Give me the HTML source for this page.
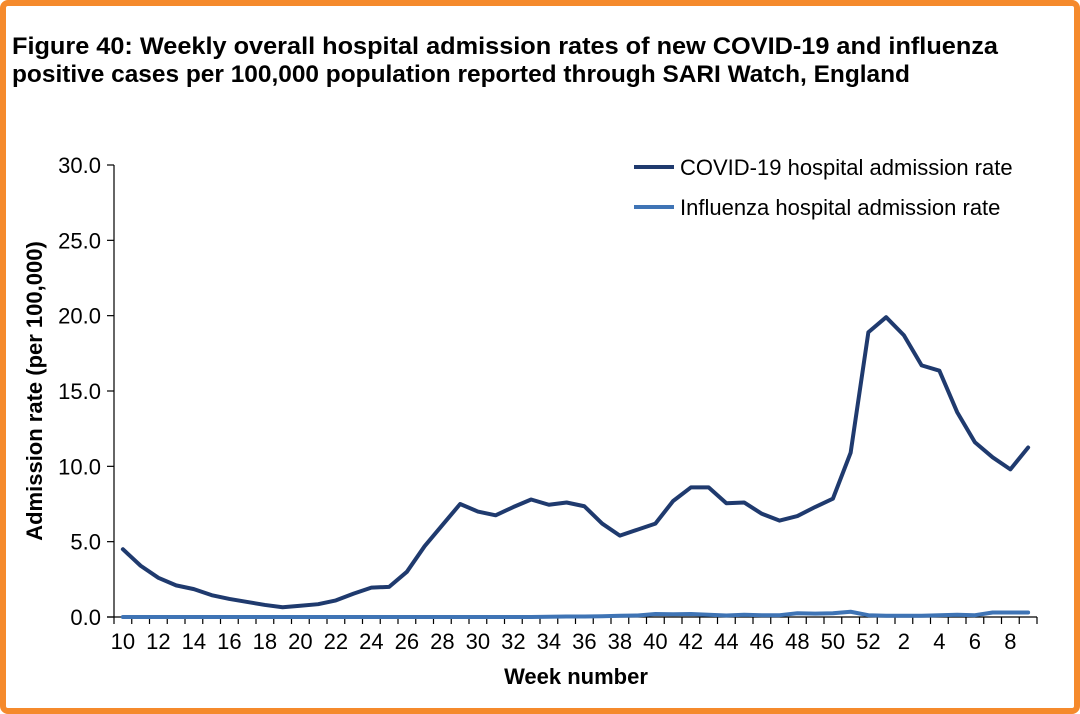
<!DOCTYPE html>
<html><head><meta charset="utf-8"><style>
body{margin:0;background:#fff}
#wrap{position:absolute;left:0;top:0;width:1068px;height:702px;border:6px solid #f58a2c;border-radius:8px;background:#fff}
svg text{font-family:"Liberation Sans",Arial,sans-serif}
</style></head><body>
<div id="wrap"></div>
<svg id="c" width="1080" height="714" style="position:absolute;left:0;top:0">
<text x="12" y="54" font-size="24.5" font-weight="bold" fill="#000" textLength="986" lengthAdjust="spacingAndGlyphs">Figure 40: Weekly overall hospital admission rates of new COVID-19 and influenza</text>
<text x="12" y="82" font-size="24.5" font-weight="bold" fill="#000" textLength="898" lengthAdjust="spacingAndGlyphs">positive cases per 100,000 population reported through SARI Watch, England</text>
<text transform="translate(42,391) rotate(-90)" text-anchor="middle" font-size="22" font-weight="bold">Admission rate (per 100,000)</text>
<text x="576" y="684" text-anchor="middle" font-size="22" font-weight="bold">Week number</text>
<line x1="634" y1="167" x2="674" y2="167" stroke="#1f3a6e" stroke-width="4"/>
<text x="680" y="175" font-size="22">COVID-19 hospital admission rate</text>
<line x1="634" y1="207" x2="674" y2="207" stroke="#3f74b5" stroke-width="4"/>
<text x="680" y="215" font-size="22">Influenza hospital admission rate</text>
<g id="axes"></g>
</svg>
<script>
const weeks=[10,11,12,13,14,15,16,17,18,19,20,21,22,23,24,25,26,27,28,29,30,31,32,33,34,35,36,37,38,39,40,41,42,43,44,45,46,47,48,49,50,51,52,1,2,3,4,5,6,7,8,9];
const covid=[4.5,3.4,2.6,2.1,1.85,1.45,1.2,1.0,0.8,0.65,0.75,0.85,1.1,1.55,1.95,2.0,3.0,4.7,6.1,7.5,7.0,6.75,7.3,7.8,7.45,7.6,7.35,6.2,5.4,5.8,6.2,7.7,8.6,8.6,7.55,7.6,6.85,6.4,6.7,7.3,7.85,10.9,18.9,19.9,18.7,16.7,16.35,13.6,11.6,10.6,9.8,11.25];
const flu=[0,0,0,0,0,0,0,0,0,0,0,0,0,0,0,0,0,0,0,0,0,0,0,0,0.02,0.03,0.03,0.05,0.08,0.1,0.2,0.18,0.2,0.15,0.1,0.15,0.12,0.12,0.25,0.22,0.25,0.35,0.12,0.08,0.08,0.08,0.12,0.15,0.12,0.3,0.3,0.3];
const yTicks=[0,5,10,15,20,25,30];
const X0=114,X1=1037,Y0=617,Y1=165,YMAX=30;
const bw=(X1-X0)/weeks.length;
const xs=i=>X0+(i+0.5)*bw, ys=v=>Y0-(v/YMAX)*(Y0-Y1);
const NS="http://www.w3.org/2000/svg",g=document.getElementById('axes');
function mk(t,a){const e=document.createElementNS(NS,t);for(const k in a)e.setAttribute(k,a[k]);g.appendChild(e);return e;}
let e=mk('line',{x1:X0,y1:Y1,x2:X0,y2:Y0,stroke:'#000','stroke-width':1.2});


yTicks.forEach(v=>{
 let t=mk('line',{x1:X0-7,y1:ys(v),x2:X0,y2:ys(v),stroke:'#000','stroke-width':1.2});
 
 
 let l=mk('text',{x:X0-13,y:ys(v)+8,'text-anchor':'end','font-size':22});
 l.textContent=v.toFixed(1);
 
 
});
e=mk('line',{x1:X0-7,y1:Y0,x2:X1,y2:Y0,stroke:'#000','stroke-width':1.2});


for(let i=0;i<=weeks.length;i++){
 let t=mk('line',{x1:X0+i*bw,y1:Y0,x2:X0+i*bw,y2:Y0+7,stroke:'#000','stroke-width':1.2});
 
 
}
weeks.forEach((w,i)=>{if(i%2===0){
 let l=mk('text',{x:xs(i),y:Y0+32,'text-anchor':'middle','font-size':22});
 l.textContent=w;
 
 
}});
function line(d,c,n){
 let p=mk('polyline',{points:d.map((v,i)=>xs(i)+','+ys(v)).join(' '),fill:'none',stroke:c,'stroke-width':4,'stroke-linejoin':'round','stroke-linecap':'round'});
 
 
}
line(flu,'#3f74b5','influenza-line');
line(covid,'#1f3a6e','covid-line');
</script>
</body></html>
